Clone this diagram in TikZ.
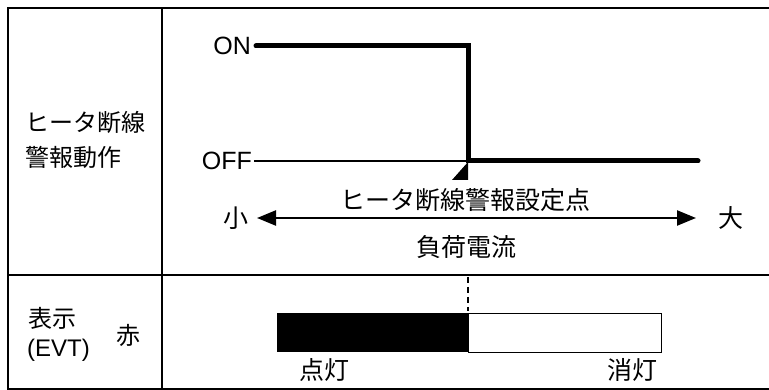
\documentclass[tikz,border=0pt]{standalone}
\usepackage{fontspec}
\setmainfont{Liberation Sans}
\newfontfamily\jp{Noto Sans CJK JP}
\usetikzlibrary{arrows.meta,positioning}

\def\tableframe{(8,8) rectangle (775,389.5)}
\def\litbar{(277,313) rectangle (468,352)}
\def\unlitbar{(468,313) rectangle (661,352)}
\colorlet{lit area}{black}
\colorlet{unlit area}{white}
\tikzset{frame/.style={line width=2.5pt},
    signal/.style={line width=5pt, line cap=round},
    level/.style={line width=1.3pt},
    current/.style={line width=2.4pt, {Triangle[length=19pt,width=15pt]}-{Triangle[length=19pt,width=15pt]}},
    latin/.style={font=\fontsize{25}{30}\selectfont, inner sep=2pt},
    jlabel/.style={font=\fontsize{25}{30}\selectfont\jp, inner sep=0pt}}

\begin{document}
\begin{tikzpicture}[x=1pt,y=-1pt]
    \useasboundingbox (0,0) rectangle (769,390);
    \clip (0,0) rectangle (769,390);
    \draw[frame] \tableframe;
    \draw[frame] (162,8) -- (162,389.5) (8,275) -- (775,275);
    % left column
    \node[jlabel, font=\fontsize{24}{35}\selectfont\jp, align=left, anchor=west] (heading) at (25,140) {ヒータ断線\\警報動作};
    \node[jlabel, font=\fontsize{24}{30}\selectfont\jp, anchor=west] (display) at (28,318) {表示};
    \node[latin, font=\fontsize{24}{30}\selectfont, inner sep=0pt, anchor=west] (evt) at (27,350) {(EVT)};
    \node[jlabel, font=\fontsize{24}{30}\selectfont\jp] (red) at (128,335) {赤};
    % heater break alarm output
    \node[latin, inner sep=5pt, anchor=east] (on) at (256,46) {ON};
    \node[latin, anchor=east] (off) at (254,161) {OFF};
    \coordinate (drop) at (468,46);
    \coordinate (setpoint) at (468,161);
    \coordinate (offend) at (698,161);
    \draw[level] (off) -- (setpoint);
    \draw[signal] (on) -- (drop) |- (offend);
    \fill (452,180) -- (468,180) -- (468,162) -- cycle;
    \node[jlabel] (alarmset) at (465,200) {ヒータ断線警報設定点};
    % load current
    \node[jlabel] (small) at (236,218) {小};
    \node[jlabel] (large) at (731,218) {大};
    \coordinate (lo) at (257,218);
    \coordinate (hi) at (696,218);
    \draw[current] (lo) -- (hi);
    \node[jlabel] (load) at (466,247) {負荷電流};
    % display
    \coordinate (dashtop) at (468,277);
    \coordinate (dashend) at (468,311);
    \draw[line width=2pt, dash pattern=on 6pt off 4pt] (dashtop) -- (dashend);
    \fill[lit area] \litbar;
    \draw[fill=unlit area, line width=0.8pt] \unlitbar;
    \node[jlabel] (lit) at (324,370) {点灯};
    \node[jlabel] (unlit) at (632,370) {消灯};
\end{tikzpicture}
\end{document}
